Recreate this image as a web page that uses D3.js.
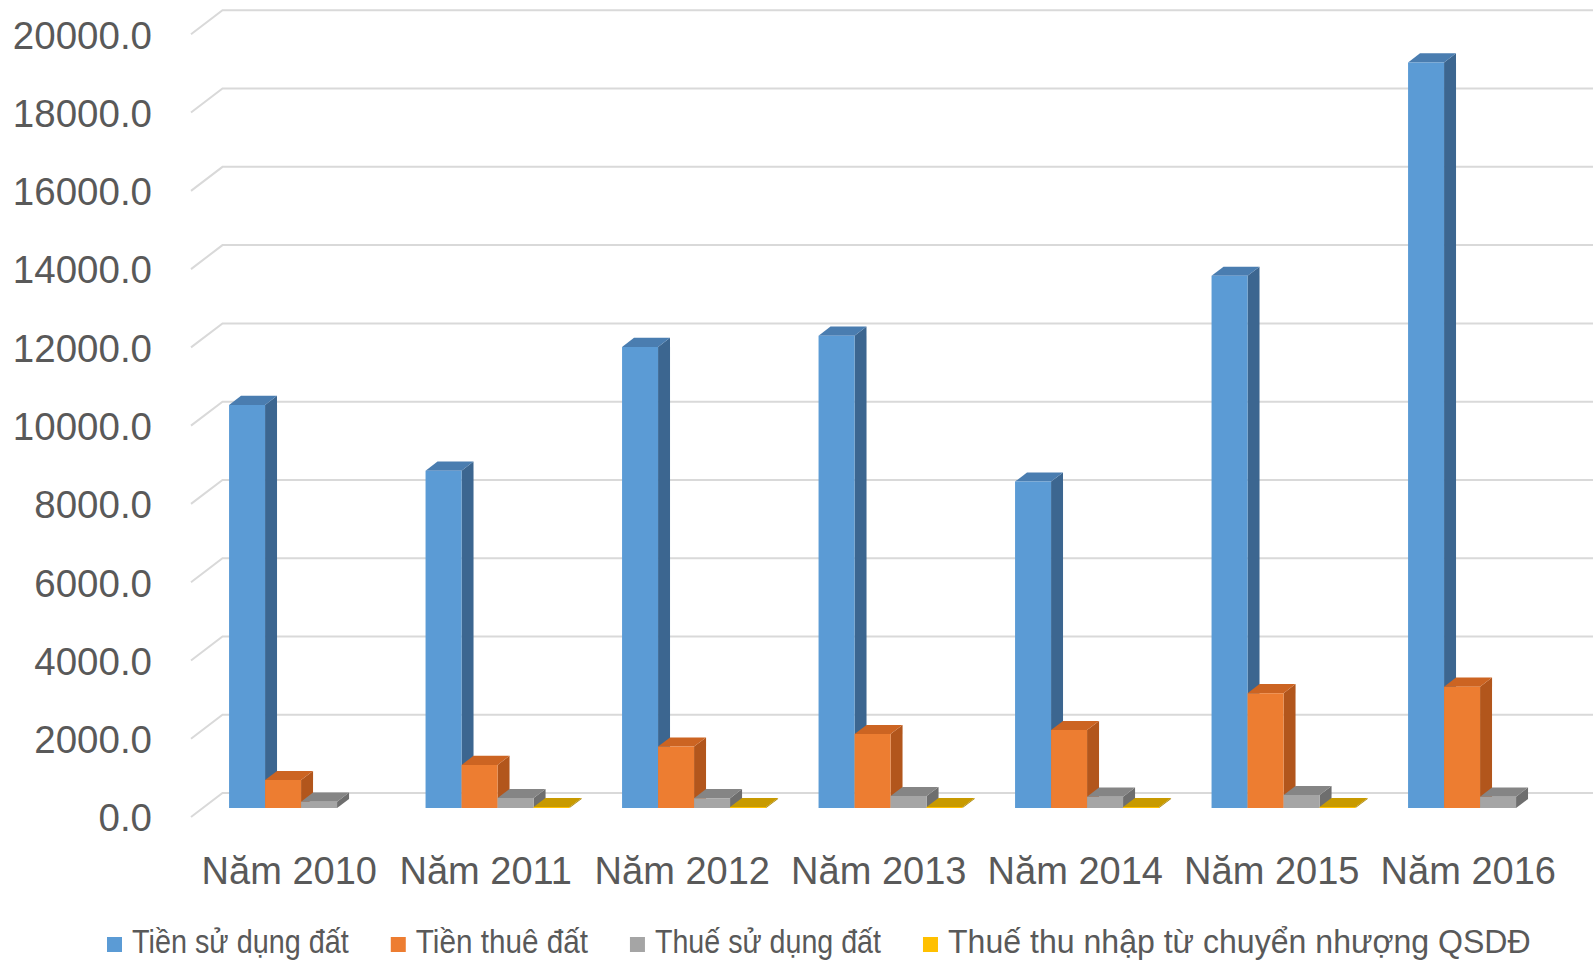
<!DOCTYPE html>
<html>
<head>
<meta charset="utf-8">
<script src="https://cdn.jsdelivr.net/npm/d3@7"></script>
<style>
  html, body { margin: 0; padding: 0; background: #ffffff; }
  svg { display: block; }
  text { fill: #595959; }
</style>
</head>
<body>
<svg id="chart" width="1593" height="960"></svg>
<script>
// Land revenue by year (3D clustered columns)
const categories = ["Năm 2010", "Năm 2011", "Năm 2012", "Năm 2013", "Năm 2014", "Năm 2015", "Năm 2016"];
const seriesNames = ["Tiền sử dụng đất", "Tiền thuê đất", "Thuế sử dụng đất", "Thuế thu nhập từ chuyển nhượng QSDĐ"];
const tienSuDungDat   = [10300, 8620, 11780, 12070, 8340, 13600, 19050];
const tienThueDat     = [715, 1100, 1570, 1890, 1990, 2935, 3100];
const thueSuDungDat   = [160, 255, 250, 305, 290, 330, 290];
const thueThuNhap     = [null, 25, 25, 25, 25, 25, null];
const yTicks = [0, 2000, 4000, 6000, 8000, 10000, 12000, 14000, 16000, 18000, 20000];

const seriesValues = [tienSuDungDat, tienThueDat, thueSuDungDat, thueThuNhap];
// face colours: front, top, side
const palette = [
  { front: "#5B9BD5", top: "#4A7DB0", side: "#3C6690" },
  { front: "#ED7D31", top: "#CC6422", side: "#B2561C" },
  { front: "#A5A5A5", top: "#858585", side: "#6E6E6E" },
  { front: "#FFC000", top: "#C89A00", side: "#A88200" }
];
// horizontal squeeze of each legend label
const legendSqueeze = [0.873, 0.9, 0.868, 0.972];

const svg = d3.select("#chart");
const W = 1593;

// oblique projection: front plane scales + offset of the back wall
const y = d3.scaleLinear().domain([0, 20000]).range([817, 34.3]);
const x = d3.scaleBand().domain(categories).range([191, 1566.5]);
const xs = d3.scaleBand().domain(seriesNames).range([0, x.bandwidth()])
  .paddingInner(0).paddingOuter(0.729);
const wall = { dx: 31.5, dy: -24 };
const depth0 = 0.375, depth1 = 0.755;

function proj(px, v, f) {
  return [px + wall.dx * f, y(v) + wall.dy * f];
}
const poly = pts => "M" + pts.map(p => p.join(",")).join("L") + "Z";

// gridlines: side wall diagonal + back wall horizontal
const grid = svg.append("g").attr("class", "grid");
grid.selectAll("path").data(yTicks).join("path")
  .attr("d", t => {
    const a = proj(191, t, 0), b = proj(191, t, 1);
    return `M${a}L${b}L${W},${b[1]}`;
  })
  .attr("fill", "none")
  .attr("stroke", "#D9D9D9")
  .attr("stroke-width", 2);

// bars
const bars = svg.append("g").attr("class", "bars");
categories.forEach((cat, ci) => {
  seriesNames.forEach((s, si) => {
    const v = seriesValues[si][ci];
    if (v == null) return;
    const x0 = x(cat) + xs(s), x1 = x0 + xs.bandwidth();
    const c = palette[si];
    const g = bars.append("g");
    g.append("path")
      .attr("d", poly([proj(x1, 0, depth0), proj(x1, 0, depth1), proj(x1, v, depth1), proj(x1, v, depth0)]))
      .attr("fill", c.side);
    g.append("path")
      .attr("d", poly([proj(x0, v, depth0), proj(x1, v, depth0), proj(x1, v, depth1), proj(x0, v, depth1)]))
      .attr("fill", c.top);
    g.append("path")
      .attr("d", poly([proj(x0, 0, depth0), proj(x1, 0, depth0), proj(x1, v, depth0), proj(x0, v, depth0)]))
      .attr("fill", c.front);
  });
});

// value axis
const yAxis = svg.append("g")
  .attr("transform", "translate(152,0)")
  .call(d3.axisLeft(y).tickValues(yTicks).tickFormat(d3.format(".1f")).tickSize(0).tickPadding(0));
yAxis.select(".domain").remove();
yAxis.selectAll("text")
  .attr("font-family", "'Liberation Sans', Arial, sans-serif")
  .attr("font-size", 38.5)
  .attr("fill", "#595959")
  .attr("dy", "0.36em");

// category axis
const xAxis = svg.append("g")
  .attr("transform", "translate(0,884)")
  .call(d3.axisBottom(x).tickSize(0).tickPadding(0));
xAxis.select(".domain").remove();
xAxis.selectAll("text")
  .attr("font-family", "'Liberation Sans', Arial, sans-serif")
  .attr("font-size", 38)
  .attr("fill", "#595959")
  .attr("y", 0)
  .attr("dy", 0);

// legend, laid out left to right
const legend = svg.append("g").attr("class", "legend");
let lx = 107;
seriesNames.forEach((name, i) => {
  const k = legendSqueeze[i];
  legend.append("rect")
    .attr("x", lx).attr("y", 937)
    .attr("width", 15).attr("height", 15)
    .attr("fill", palette[i].front);
  const t = legend.append("text")
    .attr("transform", `translate(${lx + 25},953) scale(${k},1)`)
    .attr("font-family", "'Liberation Sans', Arial, sans-serif")
    .attr("font-size", 33)
    .attr("fill", "#595959")
    .text(name);
  lx += 25 + t.node().getComputedTextLength() * k + 42;
});
</script>
</body>
</html>
